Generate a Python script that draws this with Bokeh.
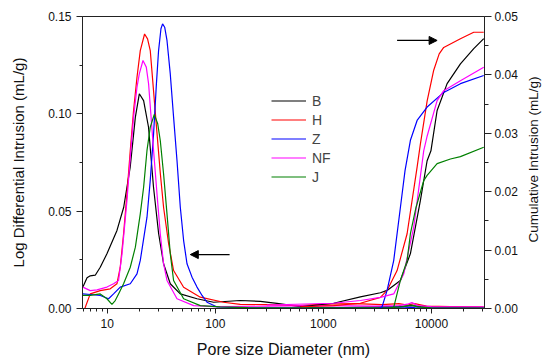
import math
from bokeh.plotting import figure
from bokeh.models import (Range1d, LinearAxis, FixedTicker, NumeralTickFormatter,
                          PrintfTickFormatter, Legend, LegendItem, Arrow, NormalHead, Label)
from bokeh.embed import file_html
from bokeh.resources import INLINE

# ---- data: log differential intrusion (left axis) ----
B_d = [5.95, 6.5, 6.96, 7.74, 8.61, 9.93, 12.3, 14.2, 16.3, 18.2, 19.8, 21.7, 24.1, 26.8, 29.9, 33.2, 38.3, 47.4, 67.7, 96.4, 170, 261, 372, 612, 900, 1500, 3000, 5000, 6500, 8000, 12000, 20000, 30500]
B_v = [0.0110, 0.0158, 0.0168, 0.0171, 0.0212, 0.0281, 0.0401, 0.0520, 0.0726, 0.0983, 0.1103, 0.1068, 0.0931, 0.0623, 0.0384, 0.0230, 0.0127, 0.0075, 0.0050, 0.0032, 0.0041, 0.0037, 0.0026, 0.0010, 0.0006, 0.0005, 0.0008, 0.0010, 0.0015, 0.0010, 0.0008, 0.0006, 0.0005]

H_d = [6.2, 6.96, 8.61, 10.66, 12.29, 13.19, 14.16, 15.22, 16.33, 17.52, 18.84, 20.21, 22.15, 23.6, 25.0, 26.8, 28.9, 31.0, 33.2, 37.0, 41.1, 50.9, 72.6, 119, 170, 300, 600, 1000, 2000, 3500, 5000, 6000, 7000, 9000, 15000, 30500]
H_v = [0.0, 0.0075, 0.0092, 0.0101, 0.0127, 0.0212, 0.0384, 0.0589, 0.0812, 0.1017, 0.1188, 0.1325, 0.1410, 0.1385, 0.1325, 0.1120, 0.0897, 0.0692, 0.0520, 0.0332, 0.0195, 0.0109, 0.0058, 0.0032, 0.0021, 0.0020, 0.0015, 0.0022, 0.0025, 0.0020, 0.0025, 0.0018, 0.0025, 0.0012, 0.0010, 0.0008]

Z_d = [5.95, 6.96, 8.61, 10.28, 11.44, 13.19, 16.33, 18.84, 20.21, 23.32, 25.0, 26.83, 28.5, 29.85, 31.4, 32.51, 34.0, 35.71, 38.3, 41.1, 44.2, 47.43, 50.9, 54.7, 60.9, 67.7, 75.4, 83.8, 103.7, 200, 1000, 3000, 5000, 7000, 30500]
Z_v = [0.0075, 0.0072, 0.0067, 0.0050, 0.0075, 0.0110, 0.0127, 0.0178, 0.0247, 0.0469, 0.0658, 0.0897, 0.1154, 0.1325, 0.1437, 0.1462, 0.1445, 0.1377, 0.1205, 0.0983, 0.0760, 0.0520, 0.0349, 0.0230, 0.0161, 0.0110, 0.0067, 0.0032, 0.0008, 0.0003, 0.0003, 0.0003, 0.0008, 0.0005, 0.0003]

NF_d = [5.95, 6.96, 8.03, 9.93, 11.44, 12.72, 13.7, 15.22, 16.33, 17.52, 18.84, 19.79, 21.41, 22.97, 24.13, 26.83, 28.86, 30.95, 33.2, 35.71, 44.2, 63, 100, 300, 1000, 3000, 5000, 6000, 6600, 7500, 10000, 30500]
NF_v = [0.0110, 0.0092, 0.0096, 0.0110, 0.0127, 0.0144, 0.0281, 0.0555, 0.0777, 0.0983, 0.1137, 0.1205, 0.1274, 0.1240, 0.1154, 0.0812, 0.0589, 0.0384, 0.0230, 0.0144, 0.0050, 0.0015, 0.0010, 0.0012, 0.0015, 0.0012, 0.0015, 0.0022, 0.0030, 0.0015, 0.0010, 0.0008]

J_d = [5.95, 6.96, 8.61, 9.93, 11.05, 11.85, 12.72, 14.16, 16.33, 18.2, 20.21, 21.7, 23.32, 25.0, 27.24, 29.3, 30.95, 33.2, 35.71, 38.3, 41.1, 50.9, 72.6, 111, 200, 1000, 4000, 5500, 6500, 7500, 10000, 30500]
J_v = [0.0067, 0.0067, 0.0075, 0.0050, 0.0021, 0.0041, 0.0075, 0.0127, 0.0212, 0.0315, 0.0486, 0.0623, 0.0812, 0.0931, 0.0997, 0.0949, 0.0863, 0.0692, 0.0486, 0.0281, 0.0144, 0.0050, 0.0015, 0.0008, 0.0004, 0.0003, 0.0003, 0.0010, 0.0018, 0.0008, 0.0003, 0.0002]

# ---- data: cumulative intrusion (right axis) ----
Bc_d = [612, 1245, 2200, 3373, 3889, 5164, 6392, 7910, 9125, 9900, 11293, 13976, 18557, 24650, 30500]
Bc_v = [0.0003, 0.0009, 0.0020, 0.0027, 0.0031, 0.0048, 0.0094, 0.0185, 0.0253, 0.0270, 0.0339, 0.0385, 0.0419, 0.0445, 0.0462]

Hc_d = [612, 1245, 2200, 3373, 3889, 4813, 5957, 7373, 7910, 9125, 10503, 11800, 13000, 18557, 24650, 30500]
Hc_v = [0.0003, 0.0005, 0.0009, 0.0019, 0.0031, 0.0065, 0.0128, 0.0242, 0.0282, 0.0355, 0.0408, 0.0436, 0.0447, 0.0462, 0.0473, 0.0473]

Zc_d = [3300, 3496, 3889, 4477, 5164, 5700, 6392, 7373, 9125, 13000, 18557, 30500]
Zc_v = [0.0, 0.0003, 0.0031, 0.0082, 0.0173, 0.0236, 0.0288, 0.0322, 0.0345, 0.0370, 0.0385, 0.0399]

NFc_d = [300, 1245, 2200, 3373, 4477, 5540, 6857, 8487, 9125, 11293, 13000, 18557, 30500]
NFc_v = [0.0006, 0.0009, 0.00137, 0.0019, 0.0025, 0.0059, 0.0139, 0.0270, 0.0295, 0.0356, 0.0373, 0.0390, 0.0413]

Jc_d = [4300, 4477, 5164, 5957, 6392, 7200, 8487, 9125, 11293, 14997, 18557, 30500]
Jc_v = [0.0, 0.0002, 0.0048, 0.0082, 0.0128, 0.0173, 0.0219, 0.0228, 0.0248, 0.0256, 0.0260, 0.0276]

labels = ["B", "H", "Z", "NF", "J"]
colors = ["#000000", "#ff0000", "#0000ff", "#ff00ff", "#008000"]
diff_series = [(B_d, B_v), (H_d, H_v), (Z_d, Z_v), (NF_d, NF_v), (J_d, J_v)]
cum_series = [(Bc_d, Bc_v), (Hc_d, Hc_v), (Zc_d, Zc_v), (NFc_d, NFc_v), (Jc_d, Jc_v)]

left_ticks = [0.0, 0.05, 0.10, 0.15]
right_ticks = [0.0, 0.01, 0.02, 0.03, 0.04, 0.05]
x_ticks = [10, 100, 1000, 10000]

FONT = "Liberation Sans"

p = figure(frame_width=402, frame_height=292, x_axis_type="log",
           x_range=(5.9, 31000), y_range=(0, 0.15),
           output_backend="svg", toolbar_location=None,
           min_border_left=82, min_border_right=66, min_border_top=16, min_border_bottom=56)
p.extra_y_ranges = {"cum": Range1d(0, 0.05)}
p.xgrid.visible = False
p.ygrid.visible = False
p.outline_line_color = "#222222"
p.outline_line_width = 1
p.background_fill_color = "white"
p.border_fill_color = "white"

items = []
for lab, col, (d, v) in zip(labels, colors, diff_series):
    r = p.line(d, v, line_color=col, line_width=1.2)
    items.append(LegendItem(label=lab, renderers=[r]))
for col, (d, v) in zip(colors, cum_series):
    p.line(d, v, line_color=col, line_width=1.2, y_range_name="cum")

def style(ax, size_label="15px"):
    ax.axis_line_color = "#222222"
    ax.major_tick_line_color = "#222222"
    ax.minor_tick_line_color = "#222222"
    ax.major_tick_in = 0
    ax.minor_tick_in = 0
    ax.major_label_text_font = FONT
    ax.major_label_text_font_size = "12px"
    ax.major_label_text_color = "#111111"
    ax.axis_label_text_font = FONT
    ax.axis_label_text_font_size = size_label
    ax.axis_label_text_font_style = "normal"
    ax.axis_label_text_color = "#111111"

xa = p.xaxis[0]
style(xa, "16px")
xa.ticker = FixedTicker(ticks=x_ticks,
                        minor_ticks=[m * 10 ** e for e in range(0, 5) for m in range(2, 10)])
xa.formatter = PrintfTickFormatter(format="%d")
xa.major_tick_out = 5
xa.minor_tick_out = 3
xa.major_label_standoff = 5
xa.axis_label = "Pore size Diameter (nm)"
xa.axis_label_standoff = 10

ya = p.yaxis[0]
style(ya)
ya.ticker = FixedTicker(ticks=left_ticks, minor_ticks=[0.025, 0.075, 0.125])
ya.formatter = NumeralTickFormatter(format="0.00")
ya.major_tick_out = 6
ya.minor_tick_out = 3
ya.major_label_standoff = 5
ya.axis_label = "Log Differential Intrusion (mL/g)"
ya.axis_label_standoff = 18

ra = LinearAxis(y_range_name="cum")
style(ra)
ra.ticker = FixedTicker(ticks=right_ticks, minor_ticks=[0.005, 0.015, 0.025, 0.035, 0.045])
ra.formatter = NumeralTickFormatter(format="0.00")
ra.major_tick_out = 7
ra.minor_tick_out = 4
ra.major_label_standoff = 3
p.add_layout(ra, "right")

# right-axis title, reading bottom to top like the left one, in the right side panel
rlabel = Label(text="Cumulative Intrusion (mL/g)", x=533, y=159,
               x_units="canvas", y_units="canvas", angle=math.pi / 2,
               text_align="center", text_baseline="middle",
               text_font=FONT, text_font_size="13.5px", text_color="#111111")
p.add_layout(rlabel, "right")

legend = Legend(items=items, location=(189, 122), padding=0, margin=0, spacing=0,
                glyph_height=19, label_height=19, glyph_width=35, label_standoff=6,
                label_text_font=FONT, label_text_font_size="14px",
                border_line_alpha=0, background_fill_alpha=0)
p.add_layout(legend, "center")

p.add_layout(Arrow(end=NormalHead(size=8, fill_color="black", line_color="black"),
                   x_start=135.6, y_start=0.0277, x_end=58.7, y_end=0.0277,
                   line_width=1.2, line_color="black"))
p.add_layout(Arrow(end=NormalHead(size=8, fill_color="black", line_color="black"),
                   x_start=4813, y_start=0.1377, x_end=11293, y_end=0.1377,
                   line_width=1.2, line_color="black"))

open("out.html", "w").write(file_html(p, INLINE))
